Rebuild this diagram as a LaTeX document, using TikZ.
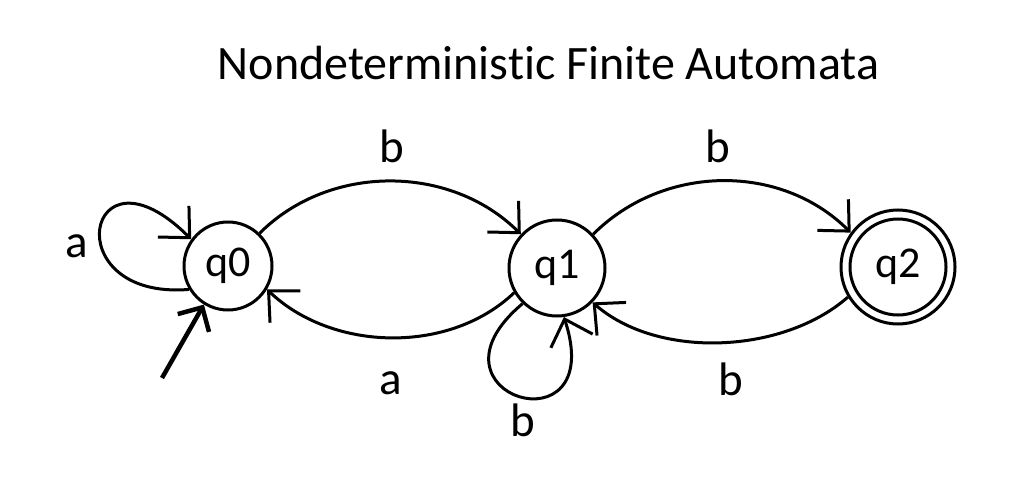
\documentclass[tikz,border=0pt]{standalone}
\usepackage{fontspec}
\setmainfont{Carlito}[Ligatures=NoCommon]
\usetikzlibrary{arrows.meta}
\begin{document}
\begin{tikzpicture}[x=1pt,y=-1pt,
  state/.style={circle,draw,line width=3pt,inner sep=0pt,font=\fontsize{44}{44}\selectfont},
  trans/.style={line width=3pt,-{Straight Barb[length=23pt,width=44pt]}},
  initarrow/.style={line width=4.5pt,-{Straight Barb[length=18pt,width=36pt]}},
  lbl/.style={anchor=base,inner sep=0pt,font=\fontsize{47}{47}\selectfont},
  titlestyle/.style={anchor=base,inner sep=0pt,font=\fontsize{48}{48}\selectfont}]
\useasboundingbox (0,0) rectangle (1027,489);
\fill[white] (0,0) rectangle (1027,489);
\node[titlestyle] (title) at (548.5,80) {Nondeterministic Finite Automata};
\node[state,minimum size=88pt] (q0) at (228,266) {q0};
\node[state,minimum size=96pt] (q1) at (557,268) {q1};
\node[state,minimum size=114pt] (q2) at (898,267) {q2};
\draw[line width=3pt] (q2.center) circle (48);
\coordinate (init) at (162,378);
\draw[initarrow] (init) -- (q0.238);
\draw[trans] (q0.46) .. controls +(70,-70) and +(-70,-70) .. (q1.137);
\draw[trans] (q1.210) .. controls +(-65,62) and +(65,62) .. (q0.329);
\draw[trans] (q1.43) .. controls +(70,-70) and +(-70,-70) .. (q2.144);
\draw[trans] (q2.211) .. controls +(-65,57) and +(65,57) .. (q1.316);
\draw[trans] (q0.211) .. controls +(-135,11) and +(-105,-105) .. (q0.144);
\draw[trans] (q1.226) .. controls +(-110,92) and +(45,137) .. (q1.278);
\node[lbl] (la) at (77,257) {a};
\node[lbl] (lb1) at (392,163) {b};
\node[lbl] (la2) at (391,394) {a};
\node[lbl] (lb2) at (718,163) {b};
\node[lbl] (lb3) at (731,395) {b};
\node[lbl] (lb4) at (523,436) {b};
\end{tikzpicture}
\end{document}
